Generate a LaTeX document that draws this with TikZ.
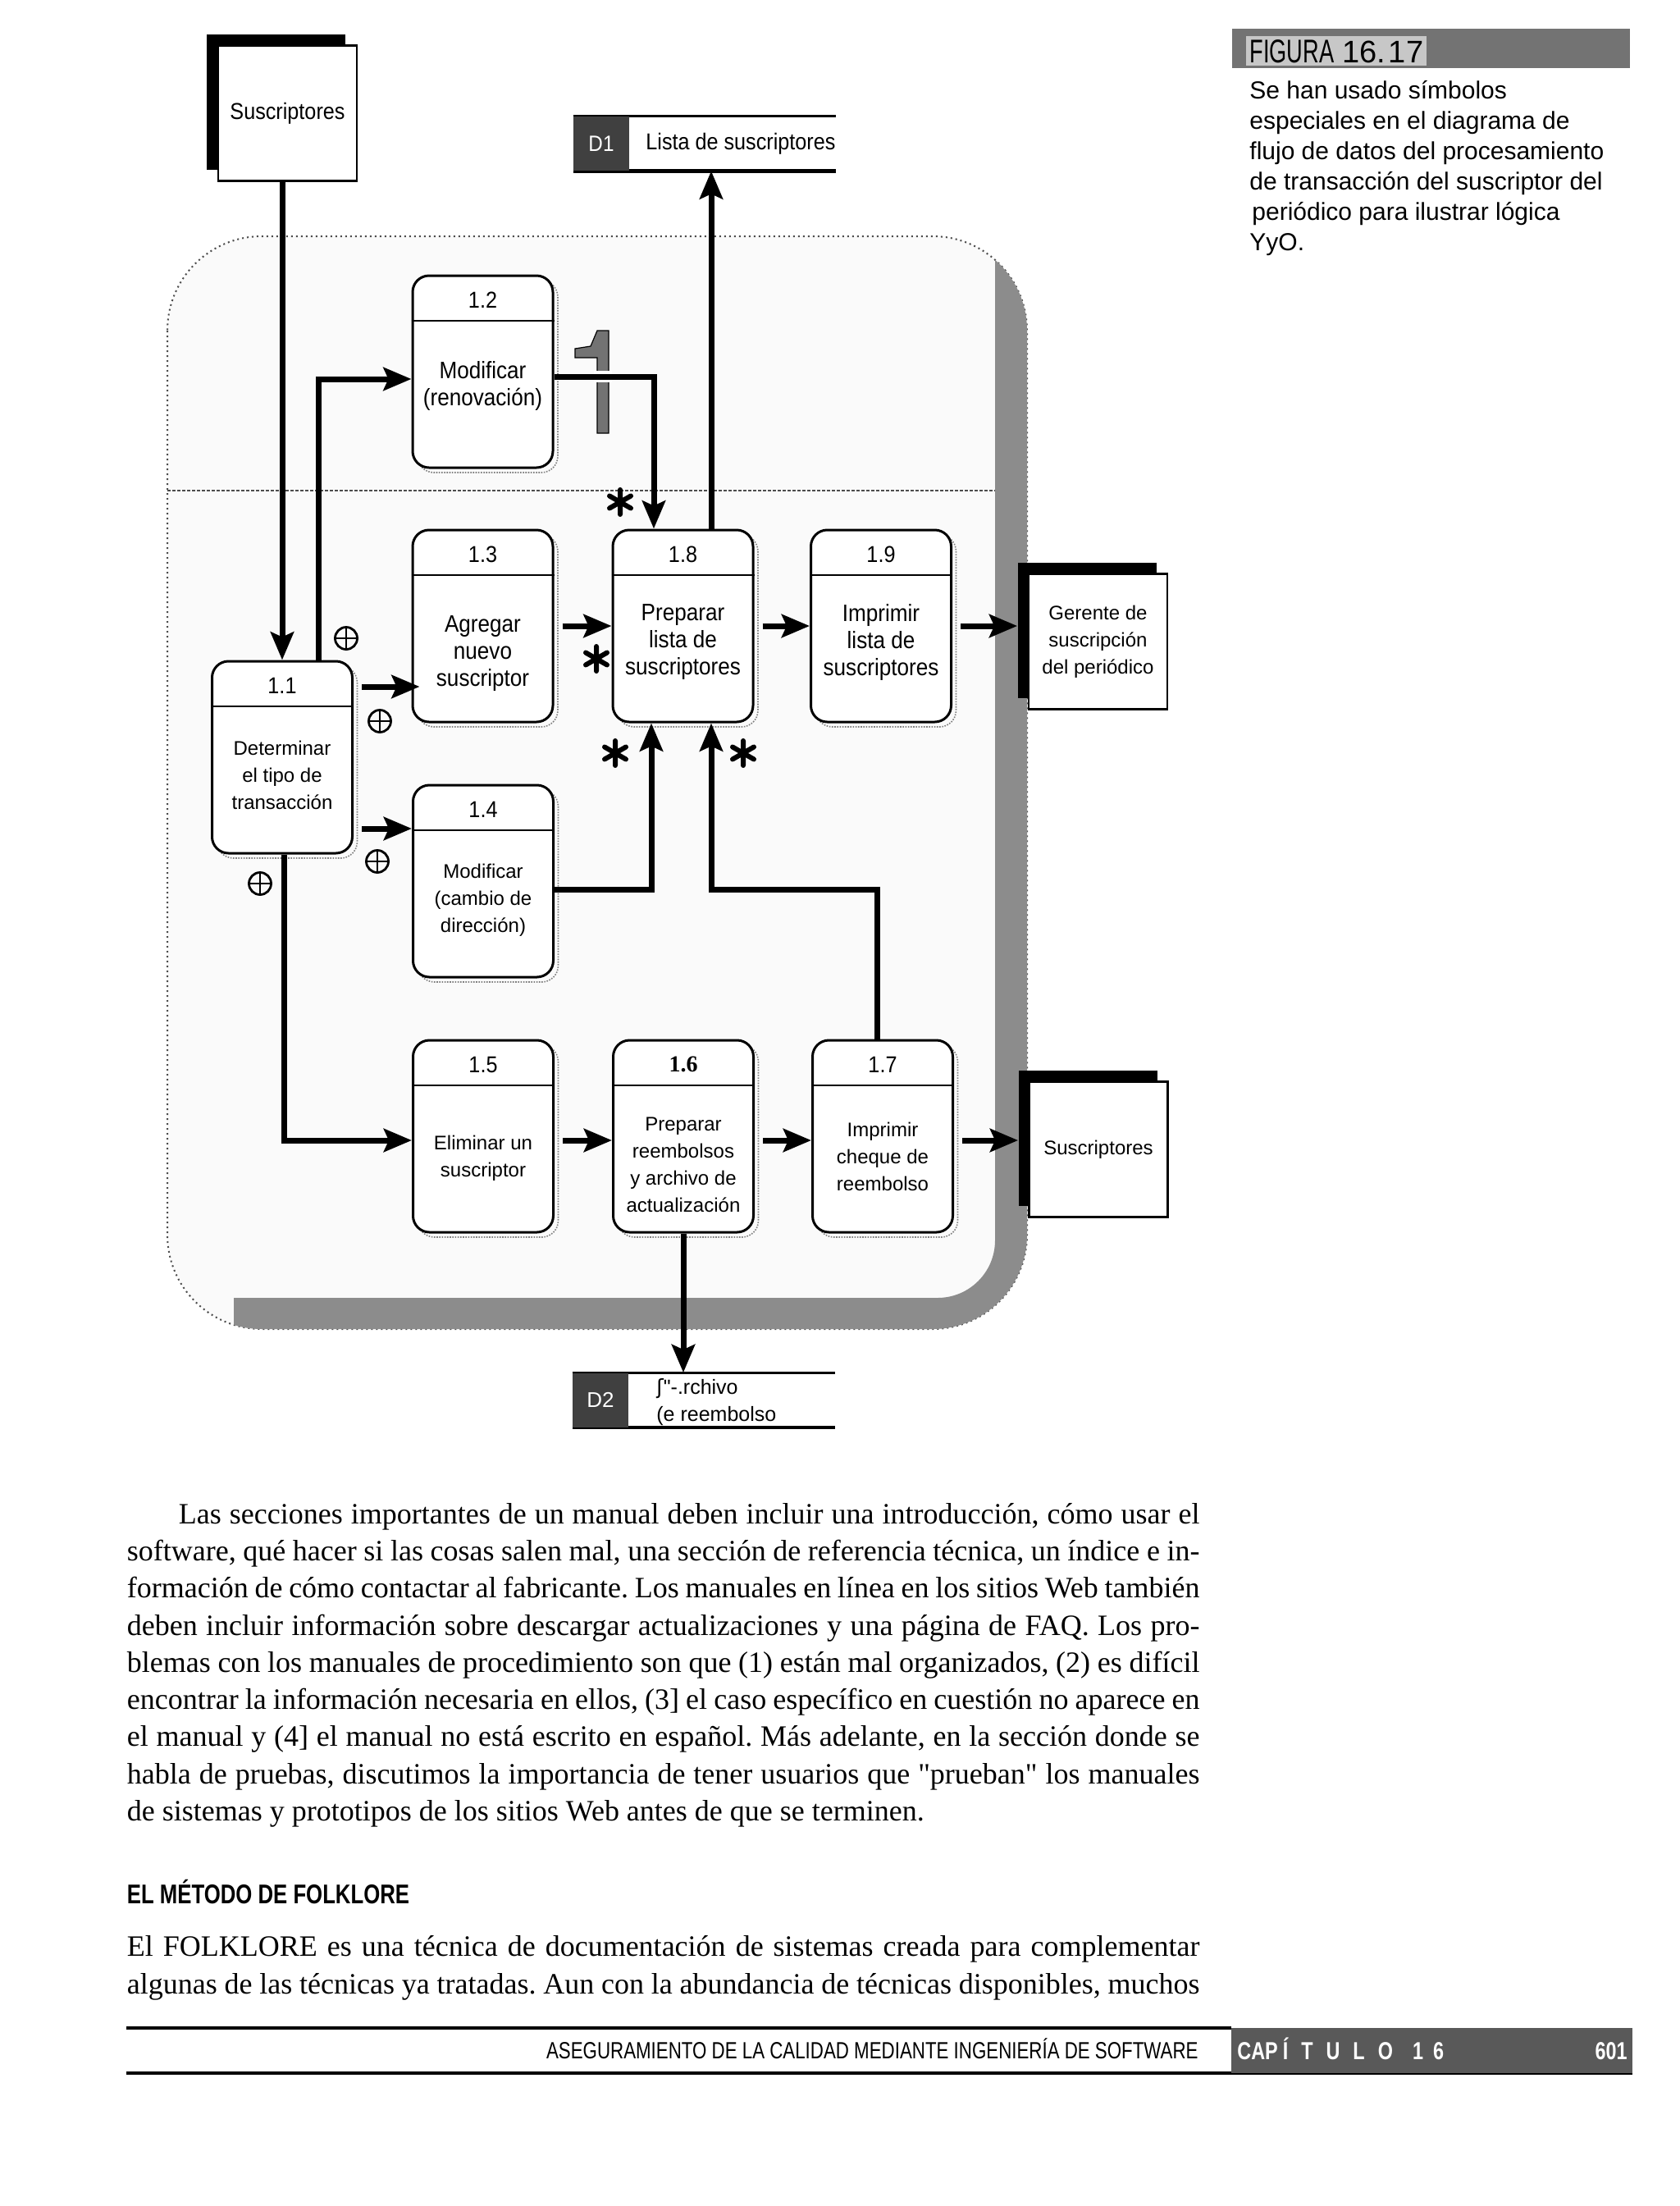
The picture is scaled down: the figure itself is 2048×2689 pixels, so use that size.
\documentclass[tikz,border=0pt]{standalone}
\usepackage{fontspec}
\setmainfont[Ligatures=TeXOff]{Liberation Serif}
\newfontfamily\arialf[Ligatures=TeXOff]{Liberation Sans}
\newfontfamily\narrowf[FakeStretch=0.9]{Liberation Sans}
\newfontfamily\condf[FakeStretch=0.78]{Liberation Sans}
\newfontfamily\figf[FakeStretch=0.68]{Liberation Sans}
\newfontfamily\dejavuf{DejaVu Sans}
\usetikzlibrary{arrows.meta}
\newcommand\bodyf{\rmfamily\fontsize{18pt}{22.6pt}\selectfont\frenchspacing}
\newcommand\pbox[7]{%
  \node[proc,pshade] at ([shift={(3pt,-3pt)}]#2,#3) {};
  \node[proc] (#1) at (#2,#3) {};
  \draw[line width=1pt] ([yshift=-28pt]#1.north west) -- ([yshift=-28pt]#1.north east);
  \node[numlbl] (#1n) at ([yshift=-15.5pt]#1.north) {#4};
  \node[#5] (#1t) at ([yshift=-#6]#1.center) {#7};
}
\begin{document}
\begin{tikzpicture}[x=0.5pt,y=-0.5pt,
  proc/.style={draw, line width=1.5pt, rounded corners=10pt, fill=white,
    minimum width=85.5pt, minimum height=117pt, inner sep=0pt},
  pshade/.style={draw=black!50, fill=none, line width=0.8pt, dash pattern=on 0.8pt off 0.8pt},
  numlbl/.style={font=\narrowf\fontsize{14pt}{16pt}\selectfont, inner sep=0pt},
  lbln/.style={font=\narrowf\fontsize{14.5pt}{16.5pt}\selectfont, align=center, inner sep=0pt},
  lbla/.style={font=\arialf\fontsize{12pt}{16.5pt}\selectfont, align=center, inner sep=0pt},
  flow/.style={line width=3.5pt, -{Stealth[length=17pt,width=14pt,inset=3pt]}},
  entw/.style={draw, line width=1.2pt, fill=white, minimum width=84.5pt, minimum height=82.5pt, inner sep=0pt},
  entb/.style={fill=black, minimum width=84.5pt, minimum height=82.5pt, inner sep=0pt},
  store/.style={minimum width=160pt, minimum height=33pt, inner sep=0pt},
  storeid/.style={fill=black!75, minimum width=34pt, minimum height=33pt, inner sep=0pt, anchor=west, text=white},
  orsym/.style={circle, draw, line width=1.4pt, minimum size=13.5pt, inner sep=0pt,
    path picture={\draw[line width=1.4pt] (path picture bounding box.north) -- (path picture bounding box.south)
      (path picture bounding box.west) -- (path picture bounding box.east);}},
  astk/.style={minimum size=18pt, inner sep=0pt,
    path picture={\draw[line width=3pt, line cap=round, shift={(path picture bounding box.center)}]
      (90:7.5pt) -- (270:7.5pt) (30:7.5pt) -- (210:7.5pt) (150:7.5pt) -- (330:7.5pt);}},
  capt/.style={anchor=base west, inner sep=0pt, font=\arialf\fontsize{15pt}{18pt}\selectfont},
  bodyl/.style={anchor=base west, inner sep=0pt, font=\bodyf}
]
\useasboundingbox (0,0) rectangle (2048,2689);
\fill[white] (0,0) rectangle (2048,2689);

% ---------- shaded region ----------
\fill[black!2, rounded corners=57.5pt] (204,288) rectangle (1252,1620);
\draw[black!70, line width=1pt, dash pattern=on 1pt off 2pt, rounded corners=57.5pt] (204,288) rectangle (1252,1620);
\begin{scope}
  \clip[rounded corners=57.5pt] (204,288) rectangle (1252,1620);
  \clip (285,0) rectangle (2048,2689);
  \fill[black!45, even odd rule] (0,0) rectangle (2048,2689) [rounded corners=35pt] (150,240) rectangle (1213,1582);
\end{scope}
\draw[black!70, line width=1.2pt, dash pattern=on 2pt off 1pt] (204,598) -- (1213,598);

% ---------- external entities ----------
\node[entb] (ent1b) at (336.5,124) {};
\node[entw, font=\narrowf\fontsize{14pt}{16pt}\selectfont] (ent1) at (350.5,138) {Suscriptores};
\node[entb] (gerb) at (1325,768) {};
\node[entw, font=\arialf\fontsize{12pt}{16.5pt}\selectfont, align=center] (ger) at (1338.5,782) {Gerente de\\suscripción\\del periódico};
\node[entb] (sus2b) at (1326,1387) {};
\node[entw, font=\arialf\fontsize{12pt}{16.5pt}\selectfont] (sus2) at (1339,1401) {Suscriptores};

% ---------- data stores ----------
\node[store] (d1) at (859,175) {};
\draw[line width=1.5pt] (d1.north west) -- (d1.north east);
\draw[line width=2.2pt] (d1.south west) -- (d1.south east);
\node[storeid, font=\narrowf\fontsize{13.5pt}{15pt}\selectfont] (d1id) at (d1.west) {D1};
\node[anchor=west, inner sep=0pt, font=\narrowf\fontsize{14pt}{16pt}\selectfont] (d1t) at (787,175) {Lista de suscriptores};

\node[store] (d2) at (858,1706.5) {};
\draw[line width=1.5pt] (d2.north west) -- (d2.north east);
\draw[line width=2.2pt] (d2.south west) -- (d2.south east);
\node[storeid, font=\arialf\fontsize{13pt}{15pt}\selectfont] (d2id) at (d2.west) {D2};
\node[anchor=west, inner sep=0pt, font=\arialf\fontsize{12.5pt}{16.5pt}\selectfont, align=left] (d2t) at (800,1709) {{\dejavuf ʃ}"-.rchivo\\(e reembolso};

% ---------- processes ----------
\pbox{p12}{588.5}{453}{1.2}{lbln}{8.5pt}{Modificar\\(renovación)}
\pbox{p13}{588.5}{763}{1.3}{lbln}{17pt}{Agregar\\nuevo\\suscriptor}
\pbox{p18}{832.5}{763}{1.8}{lbln}{10pt}{Preparar\\lista de\\suscriptores}
\pbox{p19}{1074}{763}{1.9}{lbln}{10pt}{Imprimir\\lista de\\suscriptores}
\pbox{p11}{344}{923}{1.1}{lbla}{11pt}{Determinar\\el tipo de\\transacción}
\pbox{p14}{589}{1074}{1.4}{lbla}{11.5pt}{Modificar\\(cambio de\\dirección)}
\pbox{p15}{589}{1385}{1.5}{lbla}{13.5pt}{Eliminar un\\suscriptor}
\pbox{p16}{833}{1385}{{\rmfamily\bfseries 1.6}}{lbla}{17.5pt}{Preparar\\reembolsos\\y archivo de\\actualización}
\pbox{p17}{1076}{1385}{1.7}{lbla}{12.5pt}{Imprimir\\cheque de\\reembolso}

% ---------- grey "1" mark ----------
\fill[black!55, draw=black, line width=0.6pt] (742,403) -- (742,528) -- (728,528) -- (728,436) -- (701,436) -- (701,425) -- (720,422) -- (728,403) -- cycle;
\fill[white] (724,452) rectangle (746,466);

% ---------- flows ----------
\draw[flow] (p11.north |- ent1.south) -- (p11.north);
\draw[flow] ([xshift=22pt]p11.north) |- ([yshift=-4.5pt]p12.west);
\draw[flow] ([yshift=-3pt]p12.east) -| ([xshift=-17.75pt]p18.north);
\draw[flow] ([xshift=17.25pt]p18.north) -- ([xshift=17.25pt]p18.north |- d1.south);
\draw[flow] ([xshift=5pt,yshift=43pt]p11.east) -- ([xshift=5pt,yshift=43pt]p11.east -| p13.west);
\draw[flow] ([xshift=5pt]p13.east) -- (p18.west);
\draw[flow] ([xshift=5pt]p18.east) -- (p19.west);
\draw[flow] ([xshift=5pt]p19.east) -- (p19.east -| gerb.west);
\draw[flow] ([xshift=5pt,yshift=-43.5pt]p11.east) -- ([yshift=32pt]p14.west);
\draw[flow] ([yshift=-5pt]p14.east) -| ([xshift=-19.25pt]p18.south);
\coordinate (j1) at (867,1084);
\draw[flow] ([xshift=-3.5pt]p17.north) |- (j1) -- ([xshift=17.25pt]p18.south);
\draw[flow] ([xshift=1pt]p11.south) |- ([yshift=-2.5pt]p15.west);
\draw[flow] ([xshift=5pt,yshift=-2.5pt]p15.east) -- ([yshift=-2.5pt]p16.west);
\draw[flow] ([xshift=5pt,yshift=-2.5pt]p16.east) -- ([yshift=-2.5pt]p17.west);
\draw[flow] ([xshift=5pt,yshift=-2.5pt]p17.east) -- ([yshift=-2.5pt]p17.east -| sus2b.west);
\draw[flow] (p16.south) -- (p16.south |- d2.north);

% ---------- logic symbols ----------
\node[astk] (s1) at (756,612) {};
\node[astk] (s2) at (727,803) {};
\node[astk] (s3) at (750,918) {};
\node[astk] (s4) at (906,918) {};
\node[orsym] (o1) at (422,778) {};
\node[orsym] (o2) at (463,879) {};
\node[orsym] (o3) at (460,1050) {};
\node[orsym] (o4) at (317,1077) {};

% ---------- caption ----------
\node[fill=black!55, minimum width=242.5pt, minimum height=24pt, inner sep=0pt, anchor=north west] (figbar) at (1502,35) {};
\node[anchor=base west, inner sep=2pt, fill=black!22] (figt) at (1519,76)
  {{\figf\fontsize{20pt}{22pt}\selectfont FIGURA}\hspace{5pt}{\arialf\fontsize{19pt}{22pt}\selectfont 16.\hspace{2pt}17}};
\node[capt] (c1) at (1523,120) {Se han usado símbolos};
\node[capt] (c2) at (1523,157) {especiales en el diagrama de};
\node[capt] (c3) at (1523,194) {flujo de datos del procesamiento};
\node[capt] (c4) at (1523,231) {de transacción del suscriptor del};
\node[capt] (c5) at (1526,268) {periódico para ilustrar lógica};
\node[capt] (c6) at (1523,305) {YyO.};

% ---------- body text ----------
\node[bodyl] (b1) at (217.5,1857) {\makebox[622.25pt][s]{Las secciones importantes de un manual deben incluir una introducción, cómo usar el}};
\node[bodyl] (b2) at (154.5,1902) {\makebox[653.75pt][s]{software, qué hacer si las cosas salen mal, una sección de referencia técnica, un índice e in-}};
\node[bodyl] (b3) at (154.5,1947.5) {\makebox[653.75pt][s]{formación de cómo contactar al fabricante. Los manuales en línea en los sitios Web también}};
\node[bodyl] (b4) at (154.5,1993) {\makebox[653.75pt][s]{deben incluir información sobre descargar actualizaciones y una página de FAQ. Los pro-}};
\node[bodyl] (b5) at (154.5,2038) {\makebox[653.75pt][s]{blemas con los manuales de procedimiento son que (1) están mal organizados, (2) es difícil}};
\node[bodyl] (b6) at (154.5,2083) {\makebox[653.75pt][s]{encontrar la información necesaria en ellos, (3] el caso específico en cuestión no aparece en}};
\node[bodyl] (b7) at (154.5,2128.5) {\makebox[653.75pt][s]{el manual y (4] el manual no está escrito en español. Más adelante, en la sección donde se}};
\node[bodyl] (b8) at (154.5,2174) {\makebox[653.75pt][s]{habla de pruebas, discutimos la importancia de tener usuarios que "prueban" los manuales}};
\node[bodyl] (b9) at (154.5,2219) {de sistemas y prototipos de los sitios Web antes de que se terminen.};

\node[anchor=base west, inner sep=0pt, font=\condf\bfseries\fontsize{16.5pt}{18pt}\selectfont] (head) at (154.5,2320) {EL MÉTODO DE FOLKLORE};

\node[bodyl] (e1) at (154.5,2384) {\makebox[653.75pt][s]{El FOLKLORE es una técnica de documentación de sistemas creada para complementar}};
\node[bodyl] (e2) at (154.5,2430) {\makebox[653.75pt][s]{algunas de las técnicas ya tratadas. Aun con la abundancia de técnicas disponibles, muchos}};

% ---------- footer ----------
\draw[line width=2pt] (154,2472) -- (1501,2472);
\draw[line width=2pt] (154,2527) -- (1990,2527);
\node[fill=black!65, minimum width=244.5pt, minimum height=27.5pt, inner sep=0pt, anchor=north west] (capbox) at (1501,2472) {};
\node[anchor=base east, inner sep=0pt, font=\condf\fontsize{14.3pt}{16pt}\selectfont] (foot) at (1461,2509) {ASEGURAMIENTO DE LA CALIDAD MEDIANTE INGENIERÍA DE SOFTWARE};
\node[anchor=base west, inner sep=0pt, text=white, font=\condf\bfseries\fontsize{15pt}{16pt}\selectfont] (capt) at (1508,2510) {CAP\hspace{3pt}Í\hspace{8pt}T\hspace{8pt}U\hspace{8pt}L\hspace{8pt}O\hspace{12pt}1\hspace{6pt}6};
\node[anchor=base east, inner sep=0pt, text=white, font=\condf\bfseries\fontsize{15pt}{16pt}\selectfont] (pnum) at (1984,2510) {601};
\end{tikzpicture}
\end{document}
